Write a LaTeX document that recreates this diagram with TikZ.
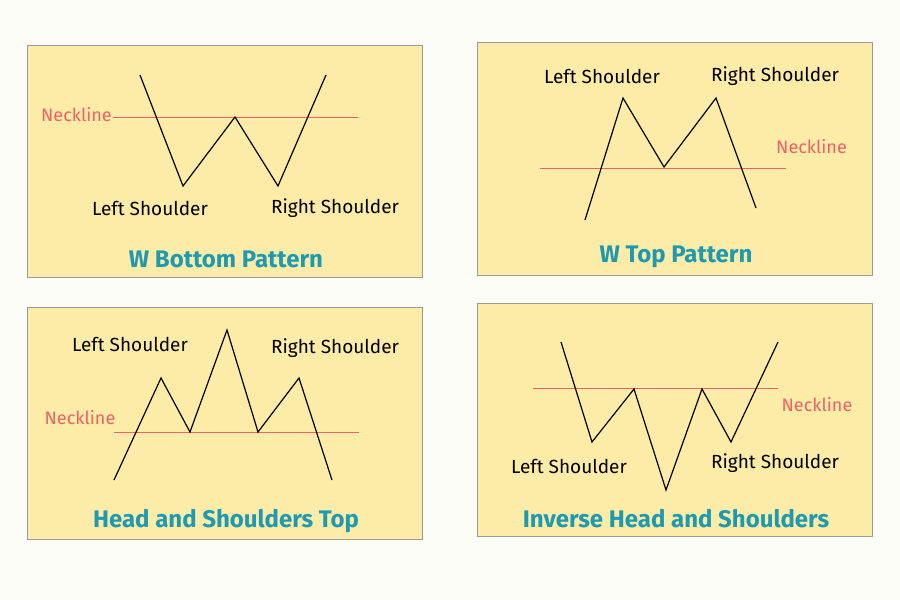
\documentclass[tikz,border=0pt]{standalone}
\usepackage{fontspec}
\setmainfont{Fira Sans}
\definecolor{pagebg}{HTML}{FDFDF8}
\definecolor{panelfill}{HTML}{FDEBA8}
\definecolor{panelline}{HTML}{9A9A9A}
\definecolor{titleblue}{HTML}{1E9AB0}
\definecolor{neckred}{HTML}{F06262}
\tikzset{
  panel/.style={draw=panelline, fill=panelfill, line width=0.8pt},
  price/.style={black, line width=1.2pt},
  neck/.style={neckred, line width=1pt},
  necklabel/.style={text=neckred, font=\fontsize{18}{18}\selectfont, inner sep=0pt},
  shoulder/.style={font=\fontsize{19}{19}\selectfont, inner sep=0pt},
  title/.style={text=titleblue, font=\fontsize{24}{24}\selectfont\bfseries, inner sep=0pt}
}
\begin{document}
\begin{tikzpicture}[x=1pt,y=-1pt]
  \fill[pagebg] (0,0) rectangle (900,600);
  \useasboundingbox (0,0) rectangle (900,600);
  % W bottom
  \draw[panel] (27,45) rectangle (422,277);
  \draw[neck] (113,117) -- (358,117);
  \draw[price] (140,75) -- (183,186) -- (235,117) -- (278,186) -- (326,75);
  \node[necklabel, anchor=east] (nl1) at (112,115) {Neckline};
  \node[shoulder] (ls1) at (150,208) {Left Shoulder};
  \node[shoulder] (rs1) at (335,208) {Right Shoulder};
  \node[title] (t1) at (226,259) {W Bottom Pattern};
  % W top
  \draw[panel] (477,42) rectangle (872,275);
  \draw[neck] (540,168) -- (786,168);
  \draw[price] (585,220) -- (623,98) -- (664,167) -- (716,98) -- (756,208);
  \node[necklabel, anchor=west] (nl2) at (776,147) {Neckline};
  \node[shoulder] (ls2) at (602,76) {Left Shoulder};
  \node[shoulder] (rs2) at (775,76) {Right Shoulder};
  \node[title] (t2) at (676,257) {W Top Pattern};
  % head and shoulders top
  \draw[panel] (27,307) rectangle (422,539);
  \draw[neck] (114,432) -- (359,432);
  \draw[price] (114,480) -- (161,378) -- (190,432) -- (227,330) -- (258,432) -- (299,378) -- (332,480);
  \node[necklabel] (nl3) at (80,418) {Neckline};
  \node[shoulder] (ls3) at (130,344) {Left Shoulder};
  \node[shoulder] (rs3) at (335,348) {Right Shoulder};
  \node[title] (t3) at (226,521) {Head and Shoulders Top};
  % inverse head and shoulders
  \draw[panel] (477,303) rectangle (872,536);
  \draw[neck] (533,388) -- (778,388);
  \draw[price] (561,342) -- (592,442) -- (634,389) -- (666,490) -- (702,389) -- (731,442) -- (778,342);
  \node[necklabel] (nl4) at (817,405) {Neckline};
  \node[shoulder] (ls4) at (569,466) {Left Shoulder};
  \node[shoulder] (rs4) at (775,463) {Right Shoulder};
  \node[title] (t4) at (676,519) {Inverse Head and Shoulders};
\end{tikzpicture}
\end{document}
